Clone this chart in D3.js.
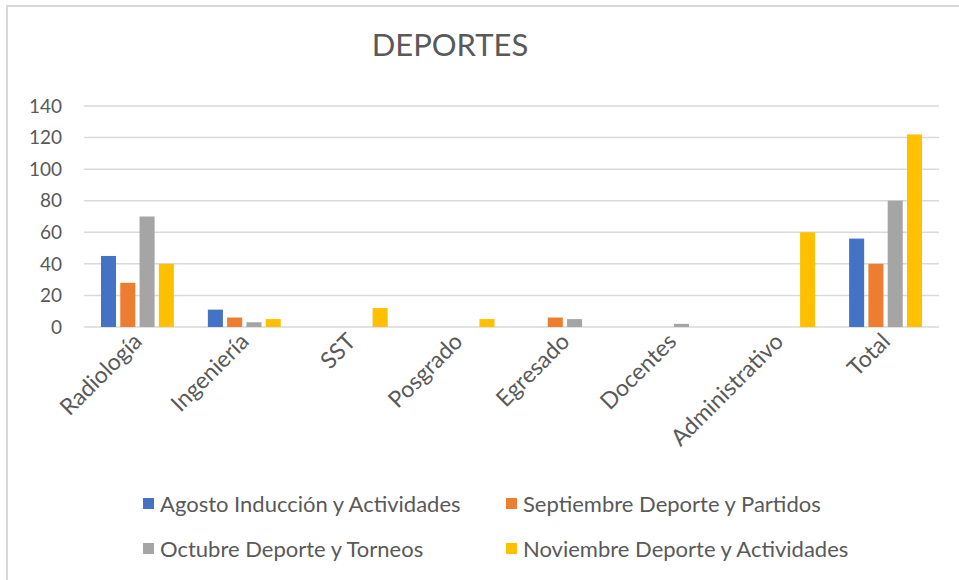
<!DOCTYPE html>
<meta charset="utf-8">
<style>
    body { margin: 0; background: #fff; }
    text { font-family: Lato, "Noto Sans", sans-serif; fill: #595959; }
</style>
<body>
    <script src="https://d3js.org/d3.v7.min.js"></script>
    <script>
        // chart data
        const categories = ["Radiología", "Ingeniería", "SST", "Posgrado", "Egresado", "Docentes", "Administrativo", "Total"];
        const seriesNames = ["Agosto Inducción y Actividades", "Septiembre Deporte y Partidos", "Octubre Deporte y Torneos", "Noviembre Deporte y Actividades"];
        const agosto = [45, 11, 0, 0, 0, 0, 0, 56];
        const septiembre = [28, 6, 0, 0, 6, 0, 0, 40];
        const octubre = [70, 3, 0, 0, 5, 2, 0, 80];
        const noviembre = [40, 5, 12, 5, 0, 0, 60, 122];
        const yTicks = [0, 20, 40, 60, 80, 100, 120, 140];
        const colors = ["#4472c4", "#ed7d31", "#a5a5a5", "#ffc000"];

        const width = 959, height = 580;
        const margin = {left: 84, right: 20, top: 106, bottom: 253};

        const svg = d3.select("body").append("svg")
            .attr("width", width)
            .attr("height", height);

        // chart border (only left and top visible in the crop)
        svg.append("rect")
            .attr("x", 7).attr("y", 6)
            .attr("width", width + 10).attr("height", height + 10)
            .attr("fill", "none")
            .attr("stroke", "#d9d9d9")
            .attr("stroke-width", 2);

        const series = [agosto, septiembre, octubre, noviembre];

        let x0 = d3.scaleBand()
            .domain(categories)
            .range([margin.left, width - margin.right]);

        const groupWidth = 72.9;
        let x1 = d3.scaleBand()
            .domain(d3.range(series.length))
            .range([0, groupWidth])
            .paddingInner(0.22);

        let y = d3.scaleLinear()
            .domain([0, 140])
            .range([height - margin.bottom, margin.top]);

        // gridlines
        svg.append("g")
            .selectAll("line")
            .data(yTicks)
            .join("line")
                .attr("x1", margin.left)
                .attr("x2", width - margin.right)
                .attr("y1", d => y(d))
                .attr("y2", d => y(d))
                .attr("stroke", "#d9d9d9")
                .attr("stroke-width", 1.5);

        // y axis labels
        svg.append("g")
            .selectAll("text")
            .data(yTicks)
            .join("text")
                .attr("x", 62)
                .attr("y", d => y(d))
                .attr("dy", "0.35em")
                .attr("text-anchor", "end")
                .style("font-size", "19px")
                .text(d => d);

        // bars
        series.forEach(function(vals, si){
            svg.append("g")
                .selectAll("rect")
                .data(vals)
                .join("rect")
                    .attr("x", (d, i) => x0(categories[i]) + x0.bandwidth()/2 - groupWidth/2 + x1(si))
                    .attr("width", x1.bandwidth())
                    .attr("y", d => y(d))
                    .attr("height", d => y(0) - y(d))
                    .attr("fill", colors[si]);
        });

        // x labels, rotated
        svg.append("g")
            .selectAll("text")
            .data(categories)
            .join("text")
                .attr("text-anchor", "end")
                .style("font-size", "23px")
                .attr("transform", d => "translate(" + (x0(d) + x0.bandwidth()/2 + 6) + "," + 343 + ") rotate(-45)")
                .text(d => d);

        // title
        svg.append("text")
            .attr("x", 450)
            .attr("y", 56)
            .attr("text-anchor", "middle")
            .style("font-size", "31px")
            .text("DEPORTES");

        // legend
        const legendPos = [[143, 504], [506, 504], [143, 549], [506, 549]];
        const legend = svg.append("g")
            .selectAll("g")
            .data(seriesNames)
            .join("g")
                .attr("transform", (d, i) => "translate(" + legendPos[i][0] + "," + legendPos[i][1] + ")");
        legend.append("rect")
            .attr("x", 0).attr("y", -6)
            .attr("width", 11).attr("height", 11)
            .attr("fill", (d, i) => colors[i]);
        legend.append("text")
            .attr("x", 17)
            .attr("dy", "0.35em")
            .style("font-size", "22px")
            .text(d => d);
    </script>
</body>
